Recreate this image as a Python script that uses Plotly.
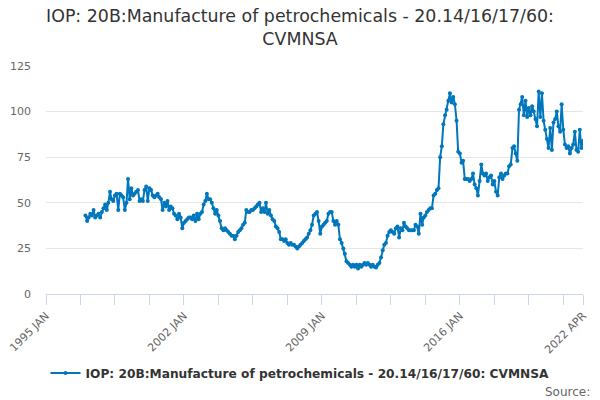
import pandas as pd
import plotly.graph_objects as go

# monthly index values, 1997 JAN .. 2022 APR
values_by_year = {
    1997: [43, 40, 42, 44, 43, 46, 42, 43, 44, 42, 45, 47],
    1998: [49, 46, 50, 56, 52, 51, 54, 55, 46, 55, 54, 53],
    1999: [46, 50, 63, 52, 58, 54, 55, 56, 57, 51, 52, 51],
    2000: [57, 59, 51, 58, 57, 54, 53, 54, 55, 53, 52, 46],
    2001: [50, 48, 51, 46, 48, 47, 44, 43, 41, 44, 42, 36],
    2002: [39, 40, 41, 42, 42, 41, 43, 40, 44, 41, 44, 45],
    2003: [49, 51, 55, 52, 52, 50, 47, 44, 46, 43, 40, 36],
    2004: [35, 36, 35, 34, 33, 32, 32, 30, 32, 34, 35, 36],
    2005: [38, 39, 46, 45, 45, 46, 46, 47, 48, 49, 50, 45],
    2006: [47, 45, 50, 44, 46, 43, 41, 40, 37, 36, 34, 30],
    2007: [30, 29, 30, 28, 27, 28, 27, 27, 26, 25, 26, 27],
    2008: [28, 29, 30, 31, 33, 35, 38, 43, 44, 45, 40, 33],
    2009: [37, 38, 39, 40, 44, 45, 45, 40, 38, 40, 38, 30],
    2010: [28, 25, 22, 18, 17, 16, 15, 16, 15, 16, 14, 16],
    2011: [15, 16, 17, 16, 17, 16, 15, 16, 15, 14.5, 16, 17],
    2012: [20, 24, 27, 28, 32, 34, 35, 34, 33, 36, 37, 31],
    2013: [36, 35, 39, 37, 36, 35, 35, 35, 35, 38, 37, 33],
    2014: [44, 38, 42, 43, 45, 46, 47, 47, 54, 55, 57, 58],
    2015: [75, 81, 93, 98, 101, 106, 110, 105, 108, 104, 95, 78],
    2016: [77, 72, 73, 63, 63, 63, 62, 63, 66, 60, 58, 54],
    2017: [62, 71, 66, 65, 66, 62, 64, 65, 60, 62, 56, 54],
    2018: [64, 66, 63, 65, 66, 66, 70, 71, 80, 81, 77, 73],
    2019: [101, 104, 108, 98, 106, 97, 102, 98, 103, 100, 96, 92],
    2020: [111, 97, 110, 95, 90, 85, 80, 91, 79, 94, 96, 100],
    2021: [92, 89, 104, 90, 82, 80, 81, 77, 80, 82, 89, 79],
    2022: [78, 90, 80, 84],
}

tick_dates = ['1995-01-01', '1996-10-01', '1998-07-01', '2000-04-01',
              '2002-01-01', '2003-10-01', '2005-07-01', '2007-04-01',
              '2009-01-01', '2010-10-01', '2012-07-01', '2014-04-01',
              '2016-01-01', '2017-10-01', '2019-07-01', '2021-04-01',
              '2022-04-01']
tick_labels = ['1995 JAN', '', '', '', '2002 JAN', '', '', '', '2009 JAN',
               '', '', '', '2016 JAN', '', '', '', '2022 APR']

series_name = 'IOP: 20B:Manufacture of petrochemicals - 20.14/16/17/60: CVMNSA'

rows = []
for year, vals in values_by_year.items():
    for i, v in enumerate(vals):
        rows.append({'Month': pd.Timestamp(year=year, month=i + 1, day=1), 'Value': v})
df = pd.DataFrame(rows)

line_color = '#0077bd'
grey = '#666666'

fig = go.Figure()
fig.add_trace(go.Scatter(
    x=df['Month'], y=df['Value'],
    mode='lines+markers',
    name=series_name,
    line=dict(color=line_color, width=2),
    marker=dict(color=line_color, size=4),
))

fig.update_layout(
    width=600, height=400,
    margin=dict(l=46, r=17, t=66, b=106, autoexpand=False),
    paper_bgcolor='white', plot_bgcolor='white',
    font=dict(family='DejaVu Sans', color=grey),
    title=dict(
        text='IOP: 20B:Manufacture of petrochemicals - 20.14/16/17/60:<br>CVMNSA',
        x=0.5, xanchor='center', y=0.945, yanchor='top',
        font=dict(size=17.4, color='#333333'),
    ),
    showlegend=True,
    legend=dict(
        orientation='h', xref='container', x=0.5, xanchor='center',
        y=-0.346, yanchor='middle', itemwidth=30,
        font=dict(size=12.2, color='#333333', weight='bold'),
    ),
)

fig.update_xaxes(
    type='date', range=['1995-01-01', '2022-04-01'],
    tickmode='array', tickvals=tick_dates, ticktext=tick_labels,
    tickangle=-45, tickfont=dict(size=11, color=grey),
    ticks='outside', ticklen=10, tickcolor='#ccd6eb',
    showline=True, linecolor='#ccd6eb', linewidth=1,
    showgrid=False, zeroline=False, automargin=False,
)
fig.update_yaxes(
    range=[0, 125], tickvals=[0, 25, 50, 75, 100, 125],
    tickfont=dict(size=11, color=grey),
    showgrid=True, gridcolor='#e6e6e6', gridwidth=1,
    zeroline=False, showline=False, ticklabelstandoff=14, automargin=False,
)

fig.add_annotation(
    text='Source:', xref='paper', yref='paper', x=1.016, y=-0.43,
    xanchor='right', yanchor='middle', showarrow=False,
    font=dict(size=12, color=grey),
)

fig.write_html('out.html', config={'displayModeBar': False},
               post_script="document.body.style.margin='0';")
